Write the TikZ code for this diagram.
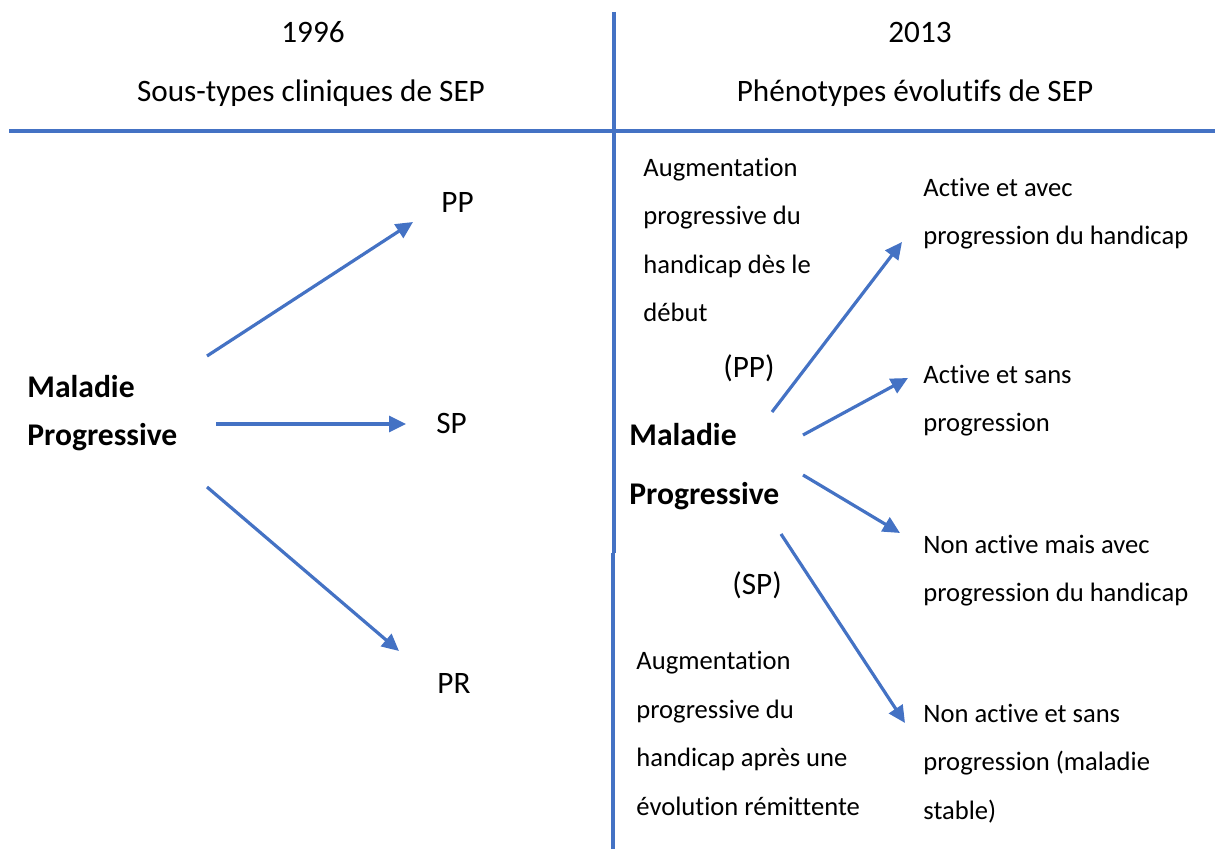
\documentclass[tikz,border=0pt]{standalone}
\usepackage{fontspec}
\setmainfont{Carlito}[Ligatures=NoCommon]
\usetikzlibrary{arrows.meta}
\definecolor{lineblue}{HTML}{4472C4}

\begin{document}
\begin{tikzpicture}[x=0.5pt, y=-0.5pt,
    txt/.style={anchor=base west, inner sep=0pt, align=left, font=\fontsize{13.3pt}{24.25pt}\selectfont},
    lbl/.style={anchor=base west, inner sep=0pt, font=\fontsize{15.6pt}{24pt}\selectfont},
    head/.style={anchor=base, inner sep=0pt, font=\fontsize{15.6pt}{24pt}\selectfont},
    big/.style={txt, font=\fontsize{15.8pt}{#1}\selectfont\bfseries},
    rule/.style={draw=lineblue, line width=2pt},
    link/.style={draw=lineblue, line width=1.6pt, -{Triangle[length=8.5pt,width=8pt]}}]
    \useasboundingbox (0,0) rectangle (1215,849);
    % separators
    \draw[rule] (614,12) -- (614,553);
    \draw[rule] (613,553) -- (613,849);
    \draw[rule] (9,131) -- (1215,131);
    % headings
    \node[head] (y1) at (313,43) {1996};
    \node[head] (t1) at (311,102) {Sous-types cliniques de SEP};
    \node[head] (y2) at (920,43) {2013};
    \node[head] (t2) at (915,102) {Phénotypes évolutifs de SEP};
    % 1996 (base = last line)
    \node[big=24pt] (mL) at (27,446) {Maladie\\Progressive};
    \node[lbl] (pp) at (441,213) {PP};
    \node[lbl] (sp) at (436,434) {SP};
    \node[lbl] (pr) at (437,693) {PR};
    % 2013
    \node[big=29.5pt] (mR) at (629,505) {Maladie\\Progressive};
    \node[txt] (augA) at (643,322) {Augmentation\\progressive du\\handicap dès le\\début};
    \node[lbl] (ppR) at (723,378) {(PP)};
    \node[lbl] (spR) at (732,595) {(SP)};
    \node[txt] (augB) at (636,815) {Augmentation\\progressive du\\handicap après une\\évolution rémittente};
    \node[txt] (r1) at (923,245) {Active et avec\\progression du handicap};
    \node[txt] (r2) at (923,432) {Active et sans\\progression};
    \node[txt] (r3) at (923,602) {Non active mais avec\\progression du handicap};
    \node[txt] (r4) at (923,819) {Non active et sans\\progression (maladie\\stable)};
    % arrow ends
    \coordinate (a1s) at (207,356); \coordinate (a1e) at (413,222);
    \coordinate (a2s) at (216,424); \coordinate (a2e) at (406,424);
    \coordinate (a3s) at (207,487); \coordinate (a3e) at (399,651);
    \coordinate (b1s) at (772,412); \coordinate (b1e) at (902,242);
    \coordinate (b2s) at (803,435); \coordinate (b2e) at (908,378);
    \coordinate (b3s) at (803,475); \coordinate (b3e) at (900,533);
    \coordinate (b4s) at (781,534); \coordinate (b4e) at (905,723);
    \draw[link] (a1s) -- (a1e);
    \draw[link] (a2s) -- (a2e);
    \draw[link] (a3s) -- (a3e);
    \draw[link] (b1s) -- (b1e);
    \draw[link] (b2s) -- (b2e);
    \draw[link] (b3s) -- (b3e);
    \draw[link] (b4s) -- (b4e);
\end{tikzpicture}
\end{document}
